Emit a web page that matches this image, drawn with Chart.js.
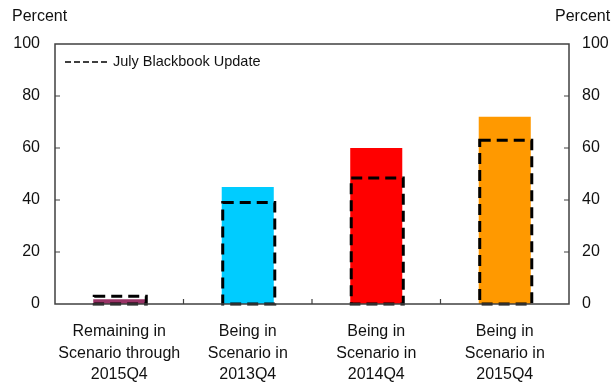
<!DOCTYPE html>
<html>
<head>
<meta charset="utf-8">
<script src="https://cdn.jsdelivr.net/npm/chart.js@4/dist/chart.umd.min.js"></script>
<style>
  html, body { margin: 0; padding: 0; background: #fff; }
  #wrap { width: 613px; height: 383px; position: relative; }
</style>
</head>
<body>
<div id="wrap"><canvas id="chart"></canvas></div>
<script>
const categories = [
    ['Remaining in', 'Scenario through', '2015Q4'],
    ['Being in', 'Scenario in', '2013Q4'],
    ['Being in', 'Scenario in', '2014Q4'],
    ['Being in', 'Scenario in', '2015Q4']
];
const currentValues = [1.8, 45, 60, 72];
const julyValues = [3, 39, 48.5, 63];
const barColors = ['#993366', '#00ccff', '#ff0000', '#ff9900'];
const yTicks = [0, 20, 40, 60, 80, 100];

const FONT = '"Liberation Sans", Arial, sans-serif';
const TEXT = '#111';
const AXIS = '#404040';

// dashed outline for the July bars + frame, inward ticks, legend, unit labels
const decorations = {
    id: 'decorations',
    afterDatasetsDraw(chart) {
        const ctx = chart.ctx;
        const area = chart.chartArea;
        const y = chart.scales.y;
        const x = chart.scales.x;

        // dashed bars
        const meta = chart.getDatasetMeta(1);
        ctx.save();
        ctx.strokeStyle = '#000';
        ctx.lineWidth = 3;
        ctx.setLineDash([11, 6]);
        meta.data.forEach(bar => {
            const p = bar.getProps(['x', 'y', 'base', 'width'], true);
            ctx.strokeRect(p.x - p.width / 2 + 1, p.y, p.width, p.base - p.y);
        });
        ctx.restore();

        // frame
        ctx.save();
        ctx.strokeStyle = AXIS;
        ctx.lineWidth = 1.5;
        ctx.strokeRect(area.left, area.top, area.right - area.left, area.bottom - area.top);

        // inward ticks
        ctx.lineWidth = 1.2;
        ctx.beginPath();
        yTicks.slice(1, -1).forEach(v => {
            const py = y.getPixelForValue(v);
            ctx.moveTo(area.left, py); ctx.lineTo(area.left + 5, py);
            ctx.moveTo(area.right, py); ctx.lineTo(area.right - 5, py);
        });
        for (let i = 1; i < categories.length; i++) {
            const px = (x.getPixelForValue(i - 1) + x.getPixelForValue(i)) / 2;
            ctx.moveTo(px, area.bottom); ctx.lineTo(px, area.bottom - 5);
        }
        ctx.stroke();

        // legend
        ctx.strokeStyle = '#000';
        ctx.lineWidth = 1.5;
        ctx.setLineDash([6, 3]);
        ctx.beginPath();
        ctx.moveTo(area.left + 10, area.top + 18);
        ctx.lineTo(area.left + 55, area.top + 18);
        ctx.stroke();
        ctx.setLineDash([]);
        ctx.fillStyle = TEXT;
        ctx.font = '14.5px ' + FONT;
        ctx.textBaseline = 'middle';
        ctx.textAlign = 'left';
        ctx.fillText('July Blackbook Update', area.left + 58, area.top + 18);

        // unit labels
        ctx.font = '16px ' + FONT;
        ctx.fillText('Percent', 12, 17);
        ctx.fillText('Percent', 555, 17);
        ctx.restore();
    }
};

new Chart(document.getElementById('chart'), {
    type: 'bar',
    data: {
        labels: categories,
        datasets: [
            {
                label: 'Current',
                data: currentValues,
                backgroundColor: barColors,
                borderWidth: 0,
                grouped: false,
                order: 2
            },
            {
                label: 'July Blackbook Update',
                data: julyValues,
                backgroundColor: 'rgba(0,0,0,0)',
                borderWidth: 0,
                grouped: false,
                order: 1
            }
        ]
    },
    options: {
        responsive: true,
        maintainAspectRatio: false,
        animation: false,
        layout: { padding: { top: 44, left: 0, right: 0, bottom: 0 } },
        datasets: {
            bar: { categoryPercentage: 1, barPercentage: 0.405 }
        },
        plugins: {
            legend: { display: false },
            tooltip: { enabled: false }
        },
        scales: {
            x: {
                grid: { display: false, drawTicks: false },
                border: { display: false },
                ticks: {
                    color: TEXT,
                    padding: 17,
                    maxRotation: 0,
                    autoSkip: false,
                    font: { family: FONT, size: 16, lineHeight: 1.35 }
                },
                afterFit(scale) { scale.height = 79; }
            },
            y: {
                position: 'left',
                min: 0,
                max: 100,
                grid: { display: false, drawTicks: false },
                border: { display: false },
                ticks: {
                    stepSize: 20,
                    color: TEXT,
                    padding: 15,
                    font: { family: FONT, size: 16 }
                },
                afterFit(scale) { scale.width = 55; }
            },
            y2: {
                position: 'right',
                min: 0,
                max: 100,
                grid: { display: false, drawTicks: false },
                border: { display: false },
                ticks: {
                    stepSize: 20,
                    color: TEXT,
                    padding: 13,
                    font: { family: FONT, size: 16 }
                },
                afterFit(scale) { scale.width = 44; }
            }
        }
    },
    plugins: [decorations]
});
</script>
</body>
</html>
